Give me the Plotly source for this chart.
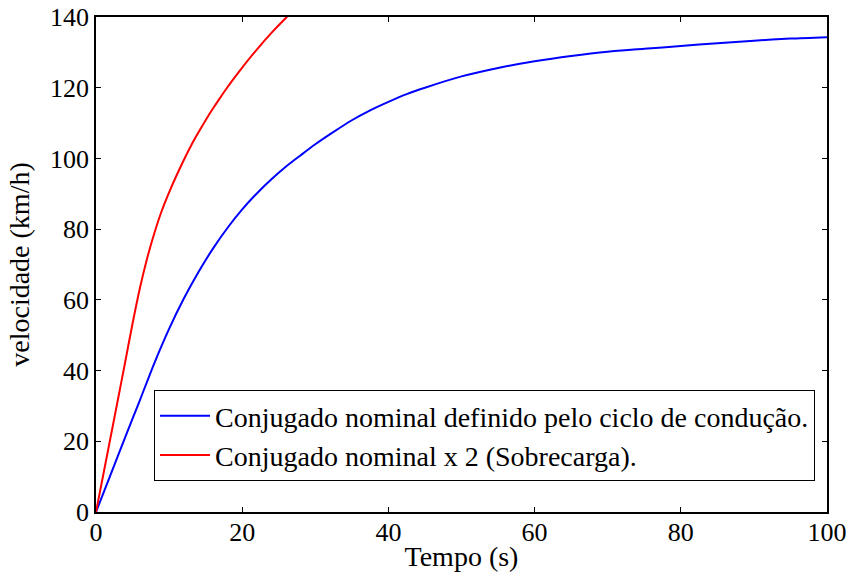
import plotly.graph_objects as go

# Blue: nominal torque (driving cycle)
t_nominal = [0, 2, 4, 6, 8, 10, 12, 14, 16, 18, 20, 22, 24, 26, 28, 30, 32.5, 35, 37.5,
             40, 42.5, 45, 50, 55, 60, 65, 70, 75, 80, 85, 90, 95, 100]
v_nominal = [0, 10.6, 21.2, 31.6, 42.2, 51.8, 60.3, 67.8, 74.5, 80.4, 85.6, 90.1, 94.1,
             97.7, 100.9, 104.0, 107.5, 110.8, 113.6, 116.0, 118.2, 120.0, 123.2, 125.6,
             127.5, 129.0, 130.2, 131.0, 131.8, 132.6, 133.3, 133.9, 134.3]

# Red: nominal torque x 2 (overload)
t_overload = [0, 1, 2, 3, 4, 5, 6, 7, 8, 9, 10, 11, 12, 13, 14, 15, 16, 17, 18, 19,
              20, 22, 24, 26, 28]
v_overload = [0, 10.6, 21.2, 31.8, 42.5, 53.3, 63.3, 71.8, 79.0, 85.2, 90.4, 95.1, 99.5,
              103.6, 107.3, 110.8, 114.1, 117.2, 120.2, 123.0, 125.7, 130.8, 135.5, 139.8,
              143.8]

x_ticks = [0, 20, 40, 60, 80, 100]
y_ticks = [0, 20, 40, 60, 80, 100, 120, 140]

FONT = "Liberation Serif"

fig = go.Figure()
fig.add_trace(go.Scatter(x=t_nominal, y=v_nominal, mode="lines",
                         line=dict(color="#0000FF", width=2, shape="spline", smoothing=0.8),
                         name="Conjugado nominal definido pelo ciclo de condução."))
fig.add_trace(go.Scatter(x=t_overload, y=v_overload, mode="lines",
                         line=dict(color="#FF0000", width=2, shape="spline", smoothing=0.8),
                         name="Conjugado nominal x 2 (Sobrecarga)."))

axis_common = dict(showline=True, linecolor="black", linewidth=1.5, mirror="ticks",
                   ticks="inside", ticklen=5, tickcolor="black", tickwidth=1,
                   showgrid=False, zeroline=False, automargin=False,
                   tickfont=dict(family=FONT, size=26, color="black"))

fig.update_xaxes(range=[0, 100], tickvals=x_ticks, ticklabelstandoff=-4,
                 title=dict(text="Tempo (s)", font=dict(family=FONT, size=28, color="black"),
                            standoff=0),
                 **axis_common)
fig.update_yaxes(range=[0, 140], tickvals=y_ticks,
                 title=dict(text="velocidade (km/h)", font=dict(family=FONT, size=28, color="black"),
                            standoff=12),
                 **axis_common)

fig.update_layout(
    template="none",
    width=850, height=580,
    margin=dict(l=96, r=23, t=17, b=68),
    paper_bgcolor="white", plot_bgcolor="white",
    font=dict(family=FONT, size=26, color="black"),
    showlegend=True,
    legend=dict(x=0.9836, y=0.0626, xanchor="right", yanchor="bottom",
                bgcolor="white", bordercolor="black", borderwidth=1,
                font=dict(family=FONT, size=28, color="black"),
                itemwidth=50, tracegroupgap=0),
)

fig.write_html("out.html", config={"displayModeBar": False},
               post_script="document.body.style.margin='0px';document.body.style.overflow='hidden';")
